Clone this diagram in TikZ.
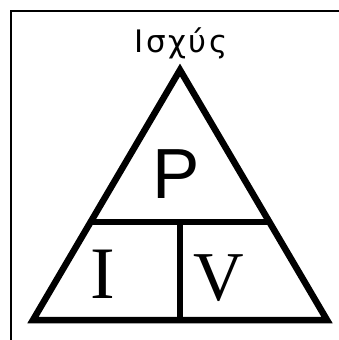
\documentclass[tikz,border=0pt]{standalone}
\usepackage{fontspec}
\setmainfont{Liberation Serif}
\newfontfamily\labelfont[LetterSpace=8]{DejaVu Sans}
\newfontfamily\powerfont{Liberation Sans}
\usetikzlibrary{calc}

\begin{document}
\begin{tikzpicture}[x=1pt,y=-1pt]
  \useasboundingbox (0,0) rectangle (339,340);
  % Frame (only top and left edges show).
  \draw[line width=2pt] (11,340) -- (11,11) -- (339,11);

  % Triangle corners and dividers.
  \coordinate (apex) at (180,70);
  \coordinate (baseL) at (33,320);
  \coordinate (baseR) at (327,320);
  \coordinate (midL) at ($(apex)!0.608!(baseL)$);
  \coordinate (midR) at ($(apex)!0.608!(baseR)$);
  \coordinate (midC) at ($(midL)!0.5!(midR)$);
  \coordinate (baseC) at ($(baseL)!0.5!(baseR)$);

  \draw[line width=6.5pt,line join=miter] (apex) -- (baseR) -- (baseL) -- cycle;
  \draw[line width=6pt] (midL) -- (midR);
  \draw[line width=6pt] (midC) -- (baseC);

  % Labels.
  \node[anchor=base,inner sep=0pt,font=\labelfont\fontsize{31}{31}\selectfont] (title) at (181,52) {Ισχύς};
  \node[anchor=base,inner sep=0pt,font=\powerfont\fontsize{71}{71}\selectfont] (power) at (176,198) {P};
  \node[anchor=base,inner sep=0pt,font=\fontsize{74}{74}\selectfont] (current) at (102.5,298) {I};
  \node[anchor=base,inner sep=0pt,font=\fontsize{70}{70}\selectfont] (voltage) at (219,300) {V};
\end{tikzpicture}
\end{document}
